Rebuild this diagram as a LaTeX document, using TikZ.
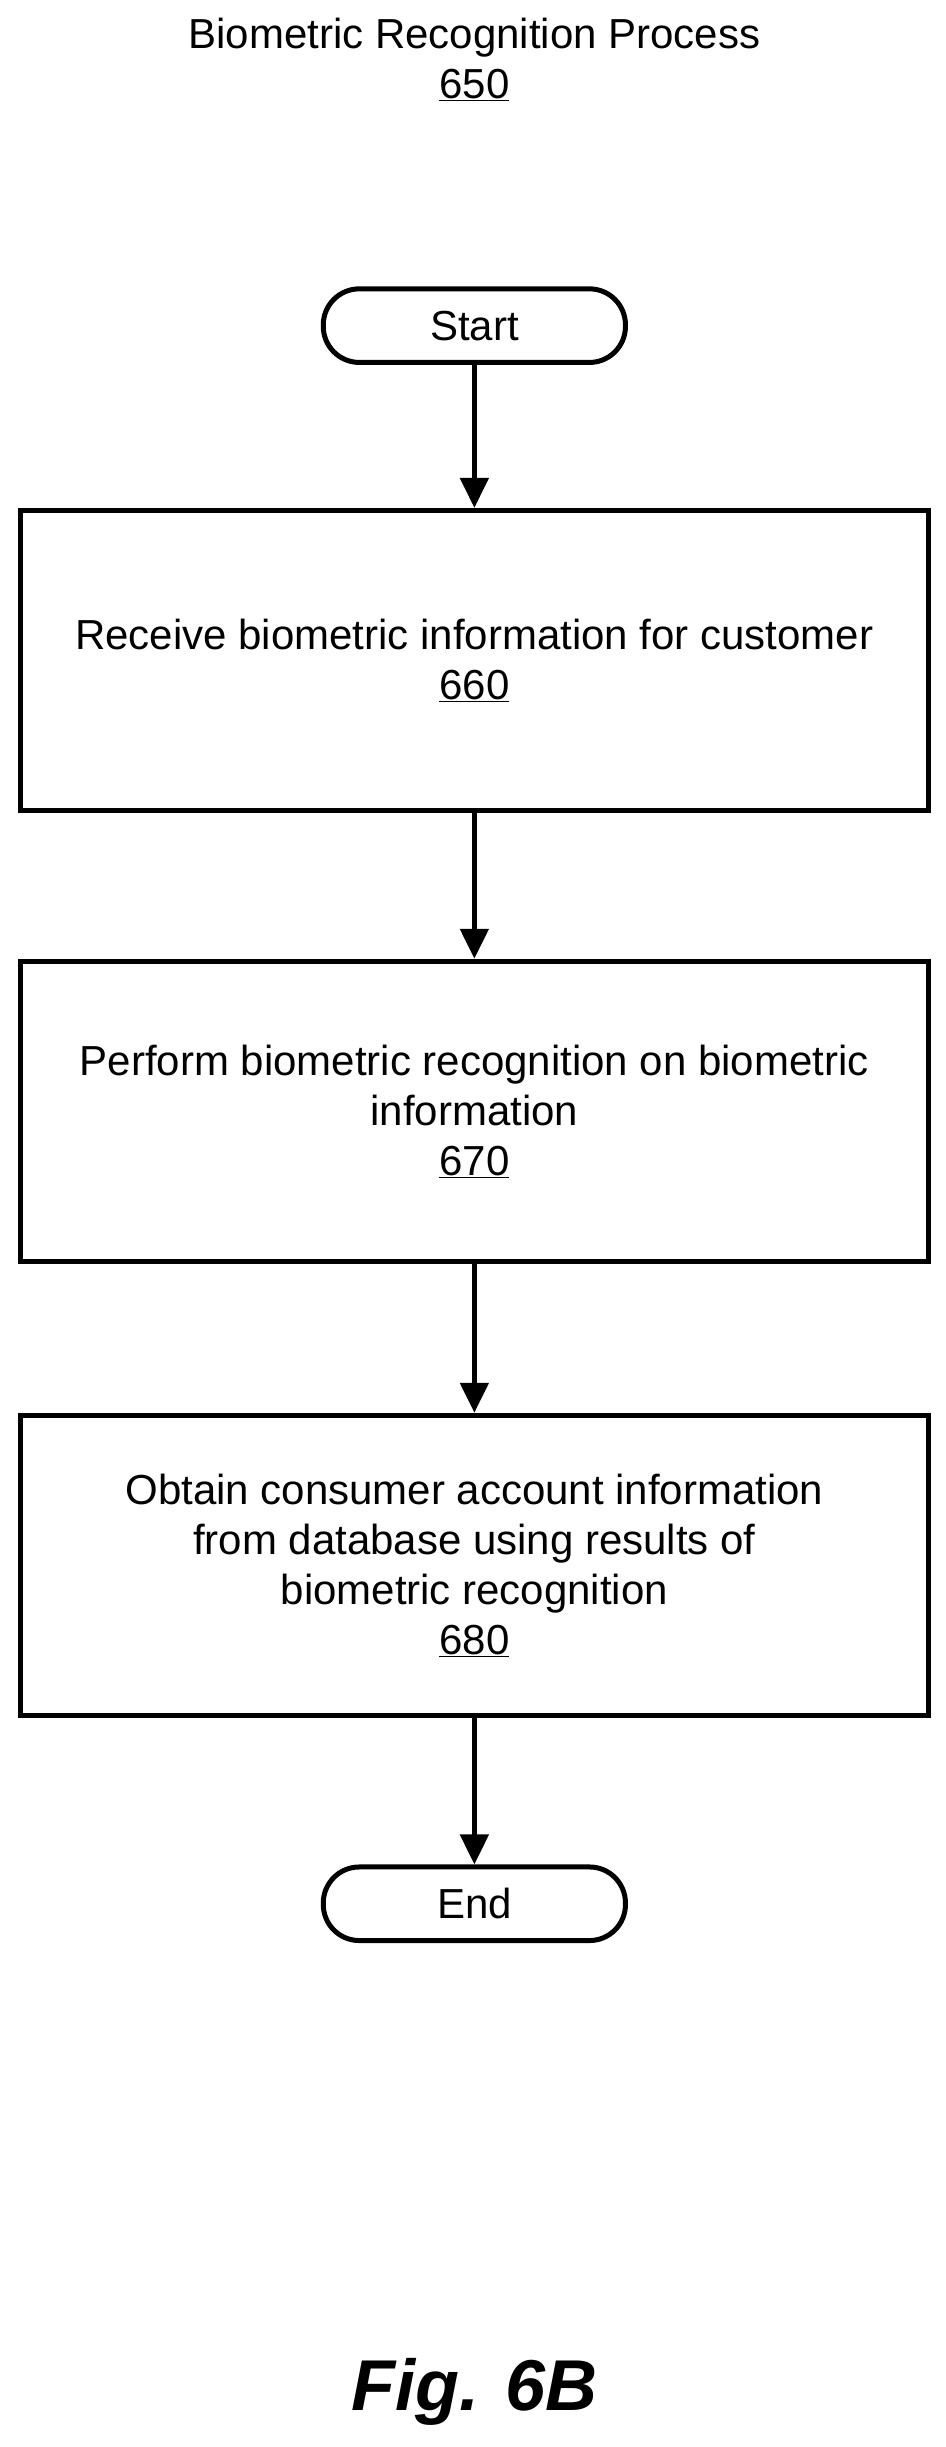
\documentclass[tikz,border=0pt]{standalone}
\usepackage{fontspec}
\setmainfont{Liberation Sans}
\usetikzlibrary{arrows.meta}
\begin{document}
\begin{tikzpicture}[x=1.566pt,y=-1.566pt,
  every node/.style={font=\fontsize{42}{50}\selectfont, align=center},
  box/.style={draw, line width=5pt, minimum width=580*1.566pt, minimum height=192*1.566pt},
  pill/.style={draw, line width=5pt, rounded corners=36pt, minimum width=193*1.566pt, minimum height=47*1.566pt},
  arr/.style={line width=5pt, -{Triangle[length=30pt,width=28pt]}}]
\useasboundingbox (0,0) rectangle (604,1563);
\node (title) at (303,38) {Biometric Recognition Process\\\underline{650}};
\node[pill] (start) at (303,208) {Start};
\node[box] (b1) at (303,422) {Receive biometric information for customer\\\underline{660}};
\node[box] (b2) at (303,710) {Perform biometric recognition on biometric\\information\\\underline{670}};
\node[box] (b3) at (303,1000) {Obtain consumer account information\\from database using results of\\biometric recognition\\\underline{680}};
\node[pill] (end) at (303,1216) {End};
\node[font=\fontsize{72}{80}\selectfont\bfseries\itshape] (fig) at (303,1528) {Fig. 6B};
\draw[arr] (start) -- (b1);
\draw[arr] (b1) -- (b2);
\draw[arr] (b2) -- (b3);
\draw[arr] (b3) -- (end);
\end{tikzpicture}
\end{document}
